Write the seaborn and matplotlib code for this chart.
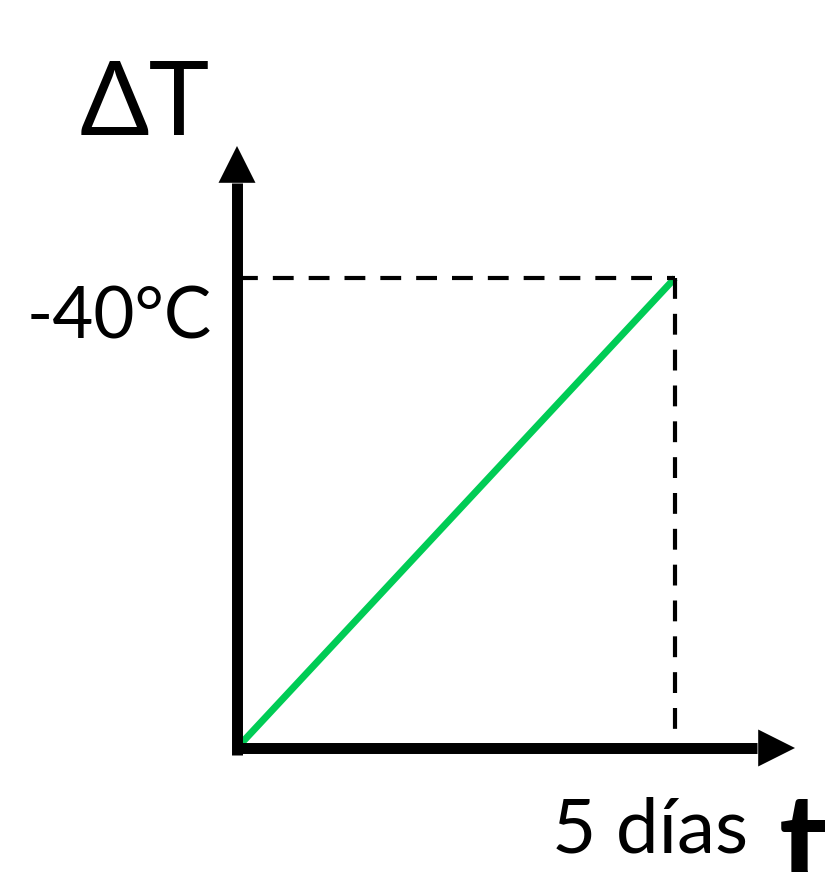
import matplotlib
matplotlib.use("Agg")
import matplotlib.pyplot as plt
import pandas as pd
import seaborn as sns

sns.set_theme(style="white")
plt.rcParams["font.family"] = ["Lato", "DejaVu Sans"]
plt.rcParams["text.color"] = "black"

# data: temperature change grows linearly over 5 days
t_days = [0, 5]
delta_t = [0, 40]
x_label = "5 días"
y_label = "-40°C"

W, H = 825, 872
fig = plt.figure(figsize=(W / 100, H / 100), dpi=100)


def fx(px):
    return px / W


def fy(py):
    return 1 - py / H


# axes box in pixels: origin (237, 748), right end 795, top 146
ax = fig.add_axes([fx(237), fy(748), fx(795) - fx(237), fy(146) - fy(748)])
x_max = (795 - 237) / ((675 - 237) / 5)
y_max = (748 - 146) / ((748 - 278) / 40)
ax.set_xlim(0, x_max)
ax.set_ylim(0, y_max)
ax.set_axis_off()

df = pd.DataFrame({"t": t_days, "dT": delta_t})
sns.lineplot(data=df, x="t", y="dT", color="#00CC55", lw=5.0, ax=ax,
             solid_capstyle="butt")

# dashed guide lines to the end point
ax.plot([0, t_days[1]], [delta_t[1], delta_t[1]], color="black", lw=3.0,
        dashes=(5, 3.6), clip_on=False)
ax.plot([t_days[1], t_days[1]], [delta_t[1], 0], color="black", lw=3.0,
        dashes=(5, 3.6), clip_on=False)

# axis shafts
shaft = 7.9
ax.axhline(0, xmin=-0.005, xmax=(757 - 237) / (795 - 237), color="black",
           lw=shaft, solid_capstyle="butt", clip_on=False)
ax.axvline(0, ymin=-0.012, ymax=(748 - 183) / (748 - 146), color="black",
           lw=shaft, solid_capstyle="butt", clip_on=False)

# arrow heads
head = dict(arrowstyle="-|>,head_length=26.5,head_width=13.3", mutation_scale=1,
            fc="black", ec="none", lw=0, shrinkA=0, shrinkB=0)
ax.annotate("", xy=(1, 0), xytext=(0.8, 0), xycoords="axes fraction",
            arrowprops=head, annotation_clip=False)
ax.annotate("", xy=(0, 1), xytext=(0, 0.8), xycoords="axes fraction",
            arrowprops=head, annotation_clip=False)

# labels
fig.text(fx(145), fy(135), "ΔT", fontsize=74, ha="center", va="baseline")
fig.text(fx(212), fy(338), y_label, fontsize=51, ha="right", va="baseline")
fig.text(fx(650), fy(852), x_label, fontsize=55, ha="center", va="baseline")
fig.text(fx(803), fy(888), "t", fontsize=95, fontweight="bold", ha="center",
         va="baseline")

fig.savefig("out.png", dpi=100)
